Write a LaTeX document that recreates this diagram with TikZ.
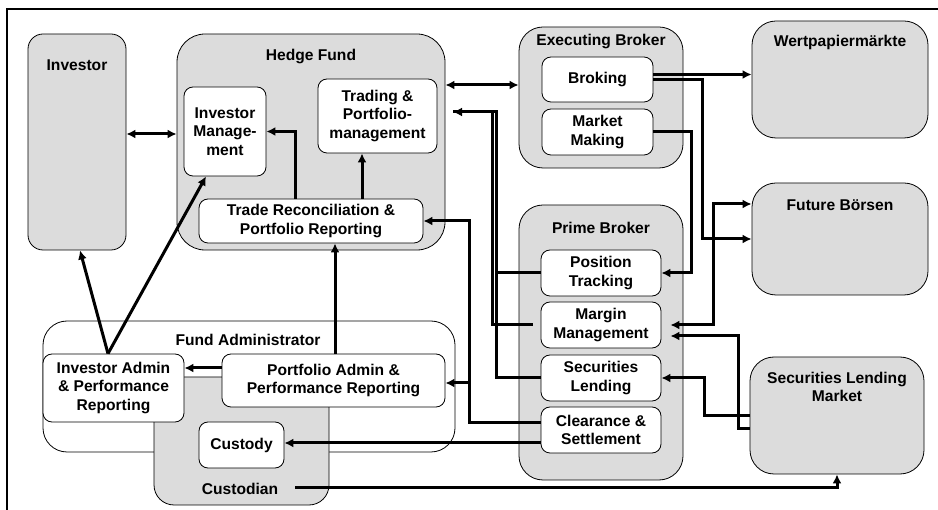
\documentclass[tikz,border=0pt]{standalone}
\usepackage{fontspec}
\setmainfont{Liberation Sans}
\usetikzlibrary{positioning,arrows.meta}
\definecolor{boxgrey}{HTML}{DCDCDC}
\tikzstyle{party}=[draw, fill=boxgrey, line width=0.8pt, rounded corners=24pt, inner sep=0pt]
\tikzstyle{dept}=[draw, fill=white, line width=0.8pt, rounded corners=9pt, align=center, inner sep=0pt]
\tikzstyle{heading}=[align=center]
\tikzstyle{flow}=[-{Latex[length=9pt,width=9pt]}, line width=3pt]
\tikzstyle{flowboth}=[{Latex[length=9pt,width=9pt]}-{Latex[length=9pt,width=9pt]}, line width=3pt]
\tikzstyle{wire}=[line width=3pt]

\begin{document}
\begin{tikzpicture}[x=1pt, y=-1pt, font=\bfseries\fontsize{15.6}{18.5}\selectfont]
    \useasboundingbox (0,0) rectangle (938,510);
    \draw[line width=1.6pt] (7,530) |- (960,9);
    % outer parties
    \node[party, rounded corners=15pt, minimum width=98, minimum height=216] (investor) at (77,142) {};
    \node[party, rounded corners=28pt, minimum width=268, minimum height=216] (hedgefund) at (311,142) {};
    \node[party, minimum width=164, minimum height=141] (execbroker) at (601,97.5) {};
    \node[party, minimum width=176, minimum height=117] (markets) at (840,79.5) {};
    \node[party, minimum width=176, minimum height=112] (futures) at (840,239) {};
    \node[party, minimum width=164, minimum height=275] (primebroker) at (601,342.5) {};
    \node[party, minimum width=174, minimum height=117] (lendmarket) at (837,415.5) {};
    \node[party, fill=white, minimum width=412, minimum height=131] (fundadmin) at (249,386.5) {};
    \node[party, rounded corners=20pt, minimum width=175, minimum height=128] (custodian) at (241.5,441) {};
    \node[heading] at (77,65) {Investor};
    \node[heading] at (311,57) {Hedge Fund};
    \node[heading] at (601,42) {Executing Broker};
    \node[heading] at (840,42) {Wertpapiermärkte};
    \node[heading] at (840,205) {Future Börsen};
    \node[heading] at (601,228) {Prime Broker};
    \node[heading] at (837,387) {Securities Lending\\Market};
    \node[heading] at (248,340) {Fund Administrator};
    \node[heading] (custlabel) at (240,489) {Custodian};
    % departments
    \node[dept, minimum width=82, minimum height=89] (invmgmt) at (225,131.5) {Investor\\Manage-\\ment};
    \node[dept, minimum width=119, minimum height=74] (trading) at (377.5,116) {Trading \&\\Portfolio-\\management};
    \node[dept, minimum width=224, minimum height=44] (traderec) at (311,221) {Trade Reconciliation \&\\Portfolio Reporting};
    \node[dept, minimum width=111, minimum height=45] (broking) at (597.5,79.5) {Broking};
    \node[dept, minimum width=111, minimum height=46] (marketmaking) at (597.5,132) {Market\\Making};
    \node[dept, minimum width=120, minimum height=46] (postrack) at (601,273) {Position\\Tracking};
    \node[dept, minimum width=120, minimum height=46] (margin) at (601,325) {Margin\\Management};
    \node[dept, minimum width=120, minimum height=46] (seclend) at (601,378) {Securities\\Lending};
    \node[dept, minimum width=120, minimum height=46] (clearance) at (601,430) {Clearance \&\\Settlement};
    \node[dept, minimum width=141, minimum height=68] (invadmin) at (113.5,388) {Investor Admin\\\& Performance\\Reporting};
    \node[dept, minimum width=223, minimum height=53] (portadmin) at (333.5,380.5) {Portfolio Admin \&\\Performance Reporting};
    \node[dept, minimum width=85, minimum height=46] (custody) at (241.5,445) {Custody};
    \coordinate (hfin) at (453,112);
    \coordinate (custout) at (295,488);
    % flows
    \draw[flowboth] (investor.east |- 0,134) -- (hedgefund.west |- 0,134);
    \draw[flowboth] (hedgefund.east |- 0,85) -- (execbroker.west |- 0,85);
    \draw[flow] ([xshift=-16pt]traderec.north) |- (invmgmt.east);
    \draw[flow] ([xshift=51pt]traderec.north) -- ([xshift=51pt]traderec.north |- trading.south);
    \draw[flow] ([yshift=5pt]broking.east) -- ([yshift=5pt]broking.east -| markets.west);
    \draw[flow] (broking.east) -- ++(49,0) |- (futures.west);
    \draw[flow] (marketmaking.east) -- ++(38,0) |- (postrack.east);
    \draw[flowboth] ([xshift=9pt]margin.east) -- ++(43,0) |- ([yshift=35pt]futures.west);
    \draw[flow] ([yshift=-13pt]lendmarket.west) -- ++(-11,0) |- ([xshift=9pt,yshift=-11pt]margin.east);
    \draw[flow] (lendmarket.west) -- ++(-45,0) |- (seclend.east);
    \draw[wire] (postrack.west) -- ++(-44,0);
    \draw[wire] ([xshift=-8pt]margin.west) -- ++(-40,0) |- (hfin);
    \draw[flow] (seclend.west) -- ++(-44,0) |- (hfin);
    \draw[flow] ([yshift=7pt]clearance.west) -- ++(-71,0) |- (traderec.east);
    \draw[flow] ([yshift=7pt]clearance.west) -- ++(-71,0) |- ([yshift=-2.5pt]portadmin.east);
    \draw[flow] ([yshift=-13pt]clearance.west) -- ([yshift=-13pt]clearance.west -| custody.east);
    \draw[flow] ([xshift=1.5pt]portadmin.north) -- ([xshift=1.5pt]portadmin.north |- traderec.south);
    \draw[flow] ([yshift=12.5pt]portadmin.west) -- ([yshift=12.5pt]portadmin.west -| invadmin.east);
    \draw[flow] ([xshift=-5.5pt]invadmin.north) -- ([xshift=3pt]investor.south);
    \draw[flow] ([xshift=-5.5pt]invadmin.north) -- ([xshift=-19pt]invmgmt.south);
    \draw[flow] (custout) -| (lendmarket.south);
\end{tikzpicture}
\end{document}
